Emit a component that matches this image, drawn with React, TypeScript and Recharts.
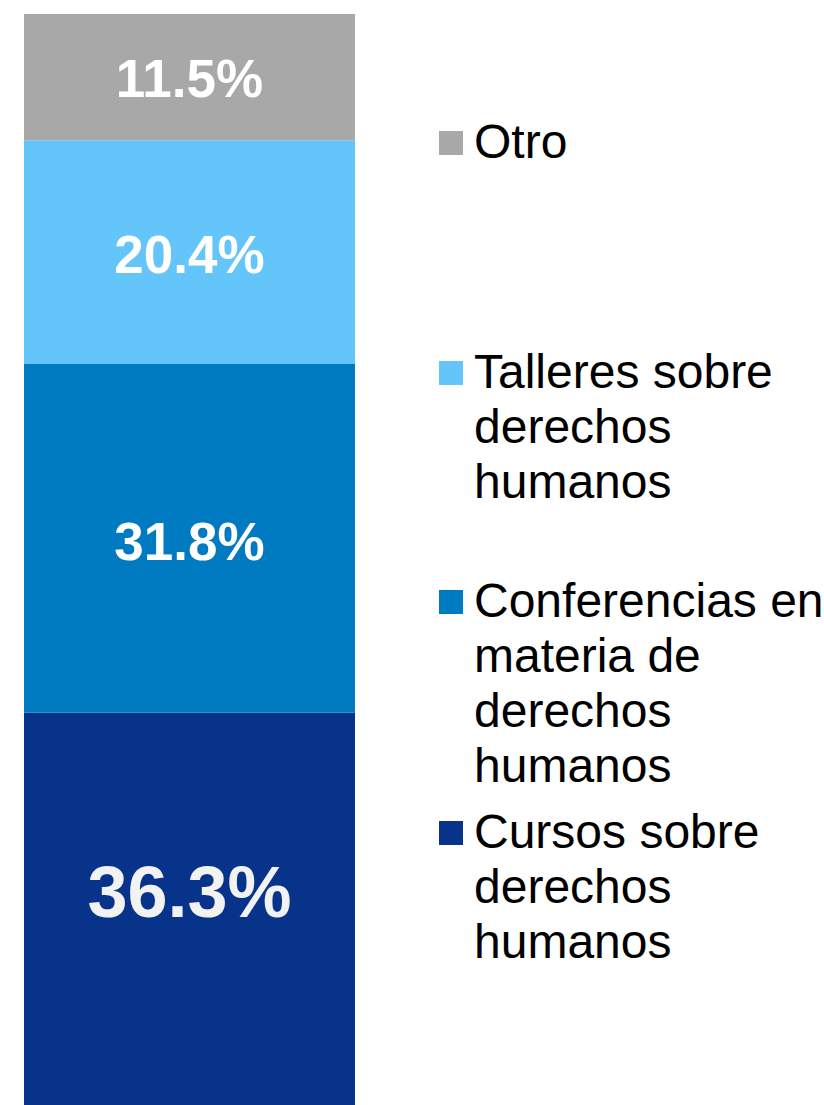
import React from 'react';
import { BarChart, Bar, XAxis, YAxis, LabelList, Legend } from 'recharts';

// ---- data ----
const categories = ['Actividades'];
const cursos = [36.3];
const conferencias = [31.8];
const talleres = [20.4];
const otro = [11.5];

const seriesKeys = ['cursos', 'conferencias', 'talleres', 'otro'];
const seriesNames = [
  'Cursos sobre derechos humanos',
  'Conferencias en materia de derechos humanos',
  'Talleres sobre derechos humanos',
  'Otro',
];
const legendLines: Record<string, string[]> = {
  otro: ['Otro'],
  talleres: ['Talleres sobre', 'derechos', 'humanos'],
  conferencias: ['Conferencias en', 'materia de', 'derechos', 'humanos'],
  cursos: ['Cursos sobre', 'derechos', 'humanos'],
};

// ---- styles ----
const FONT = '"Liberation Sans", Arial, Helvetica, sans-serif';
const colors: Record<string, string> = {
  cursos: '#07338A',
  conferencias: '#007AC0',
  talleres: '#63C5FA',
  otro: '#A8A8A8',
};
const labelStyle: Record<string, { size: number; fill: string; dy: number }> = {
  cursos: { size: 72, fill: '#F2F2F2', dy: -21 },
  conferencias: { size: 53, fill: '#FFFFFF', dy: 3 },
  talleres: { size: 53, fill: '#FFFFFF', dy: 2 },
  otro: { size: 53, fill: '#FFFFFF', dy: 1 },
};
const legendTop: Record<string, number> = {
  otro: 114,
  talleres: 344,
  conferencias: 573,
  cursos: 804,
};

const data = categories.map((c, i) => ({
  name: c,
  cursos: cursos[i],
  conferencias: conferencias[i],
  talleres: talleres[i],
  otro: otro[i],
}));

const makeLabel = (key: string) => (props: any) => {
  const { x, y, width, height, value } = props;
  const st = labelStyle[key];
  const cx = Number(x) + Number(width) / 2;
  const cy = Number(y) + Number(height) / 2 + st.dy;
  return (
    <text
      x={cx}
      y={cy + st.size * 0.358}
      textAnchor="middle"
      fill={st.fill}
      fontFamily={FONT}
      fontWeight="bold"
      fontSize={st.size}
    >
      {`${Number(value).toFixed(1)}%`}
    </text>
  );
};

const renderLegend = (props: any) => {
  const payload = (props.payload || []) as any[];
  const items = [...payload].reverse();
  return (
    <div style={{ position: 'relative', width: 824, height: 1105, fontFamily: FONT }}>
      {items.map((p) => {
        const key = String(p.dataKey);
        const top = legendTop[key];
        return (
          <div key={key} style={{ position: 'absolute', left: 0, top: 0 }}>
            <div
              style={{
                position: 'absolute',
                left: 439,
                top: top + 17,
                width: 24,
                height: 24,
                background: p.color || colors[key],
              }}
            />
            <div
              style={{
                position: 'absolute',
                left: 474,
                top,
                fontSize: 48,
                lineHeight: '55px',
                color: '#000',
                whiteSpace: 'nowrap',
              }}
            >
              {legendLines[key].map((l, i) => (
                <div key={i}>{l}</div>
              ))}
            </div>
          </div>
        );
      })}
    </div>
  );
};

export default function App() {
  return (
    <div
      style={{
        position: 'absolute',
        left: 0,
        top: 0,
        width: 824,
        height: 1105,
        overflow: 'hidden',
        background: '#fff',
        fontFamily: FONT,
      }}
    >
      <BarChart
        width={824}
        height={1111}
        data={data}
        margin={{ top: 14, right: 469, bottom: 0, left: 24 }}
        barCategoryGap={0}
      >
        <XAxis dataKey="name" hide />
        <YAxis hide domain={[0, 100]} />
        {seriesKeys.map((k, i) => (
          <Bar
            key={k}
            dataKey={k}
            name={seriesNames[i]}
            stackId="a"
            fill={colors[k]}
            isAnimationActive={false}
          >
            <LabelList dataKey={k} content={makeLabel(k)} />
          </Bar>
        ))}
        <Legend
          layout="horizontal"
          verticalAlign="middle"
          align="center"
          wrapperStyle={{ position: 'absolute', left: 0, top: 0, width: 824, height: 1105, margin: 0 }}
          content={renderLegend}
        />
      </BarChart>
    </div>
  );
}
